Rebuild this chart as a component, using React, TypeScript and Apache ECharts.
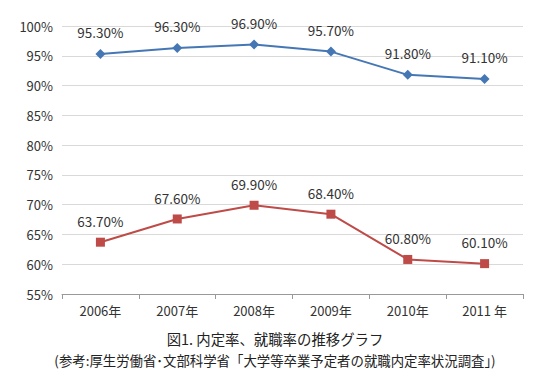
import React, { useEffect, useRef } from "react";
import * as echarts from "echarts";

const categories = ["2006年", "2007年", "2008年", "2009年", "2010年", "2011 年"];
const employmentRate = [95.3, 96.3, 96.9, 95.7, 91.8, 91.1];
const offerRate = [63.7, 67.6, 69.9, 68.4, 60.8, 60.1];
const titleText = "図1. 内定率、就職率の推移グラフ";
const subtitleText = "(参考:厚生労働省･文部科学省「大学等卒業予定者の就職内定率状況調査」)";

const FONT = "'Noto Sans CJK JP', 'Noto Sans', sans-serif";

export default function App() {
  const ref = useRef<HTMLDivElement>(null);
  useEffect(() => {
    if (!ref.current) return;
    const chart = echarts.init(ref.current, undefined, { renderer: "svg" });
    const label = {
      show: true,
      position: "top" as const,
      distance: 10,
      color: "#333",
      fontSize: 13.5,
      fontFamily: FONT,
      formatter: (p: any) => p.value.toFixed(2) + "%",
    };
    chart.setOption({
      animation: false,
      backgroundColor: "#fff",
      textStyle: { fontFamily: FONT },
      title: [
        {
          text: titleText,
          left: "center",
          top: 326,
          textStyle: { fontSize: 14.4, fontWeight: "normal", color: "#222", fontFamily: FONT },
        },
        {
          text: subtitleText,
          left: "center",
          top: 348,
          textStyle: { fontSize: 13.4, fontWeight: "normal", color: "#222", fontFamily: FONT },
        },
      ],
      grid: { left: 62, right: 27, top: 26, bottom: 86 },
      xAxis: {
        type: "category",
        data: categories,
        boundaryGap: true,
        axisLine: { lineStyle: { color: "#999" } },
        axisTick: { show: true, length: 5, lineStyle: { color: "#999" } },
        axisLabel: { color: "#333", fontSize: 13, margin: 10, fontFamily: FONT },
      },
      yAxis: {
        type: "value",
        min: 55,
        max: 100,
        interval: 5,
        axisLine: { show: false },
        axisTick: { show: false },
        axisLabel: { color: "#333", fontSize: 13, margin: 9, formatter: "{value}%", fontFamily: FONT },
        splitLine: { lineStyle: { color: "#d9d9d9", width: 1 } },
      },
      series: [
        {
          name: "就職率",
          type: "line",
          data: employmentRate,
          symbol: "diamond",
          symbolSize: 10,
          itemStyle: { color: "#4677b5" },
          lineStyle: { color: "#4677b5", width: 2 },
          label,
        },
        {
          name: "内定率",
          type: "line",
          data: offerRate,
          symbol: "rect",
          symbolSize: 9,
          itemStyle: { color: "#be4b48" },
          lineStyle: { color: "#be4b48", width: 2 },
          label,
        },
      ],
    });
    return () => chart.dispose();
  }, []);
  return <div ref={ref} style={{ width: 550, height: 380, position: "absolute", left: 0, top: 0 }} />;
}
